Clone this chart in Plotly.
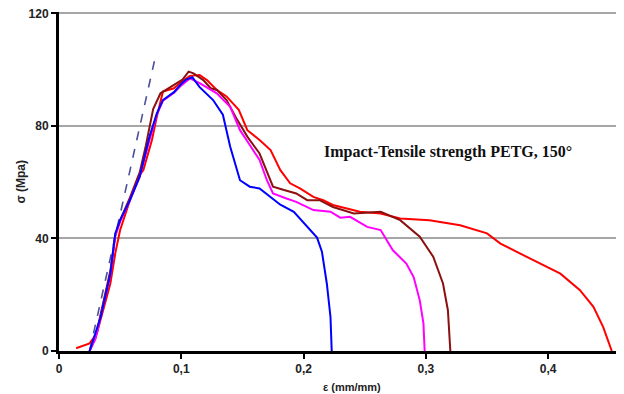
import plotly.graph_objects as go

# strain (mm/mm) and stress (MPa) for each specimen
red_x = [0.014, 0.017, 0.025, 0.031, 0.036, 0.042, 0.046, 0.050, 0.058, 0.065, 0.069, 0.076, 0.080,
         0.085, 0.094, 0.100, 0.107, 0.115, 0.121, 0.129, 0.137, 0.147, 0.154, 0.164, 0.173, 0.181,
         0.189, 0.197, 0.208, 0.216, 0.224, 0.230, 0.246, 0.263, 0.279, 0.303, 0.328, 0.350, 0.361,
         0.385, 0.410, 0.426, 0.437, 0.445, 0.452]
red_y = [1.0, 1.4, 2.7, 6.3, 14.5, 24.0, 34.7, 43.0, 53.6, 62.0, 64.3, 75.0, 83.3,
         92.2, 93.4, 95.7, 97.8, 98.1, 96.3, 92.8, 90.5, 85.7, 78.5, 75.0, 71.4, 64.3,
         59.6, 57.8, 54.8, 53.6, 51.9, 51.2, 49.5, 48.9, 47.1, 46.5, 44.7, 41.8, 38.2,
         32.9, 27.5, 21.6, 15.7, 8.5, 0.0]

maroon_x = [0.025, 0.030, 0.034, 0.042, 0.046, 0.050, 0.058, 0.066, 0.071, 0.077, 0.083, 0.088,
            0.096, 0.101, 0.106, 0.110, 0.118, 0.124, 0.129, 0.137, 0.145, 0.154, 0.164, 0.175,
            0.184, 0.194, 0.203, 0.213, 0.224, 0.241, 0.263, 0.279, 0.295, 0.306, 0.314, 0.318, 0.320]
maroon_y = [0.0, 5.0, 13.0, 28.5, 41.0, 46.5, 54.5, 63.5, 73.0, 86.0, 91.6, 93.0,
            95.2, 96.5, 99.3, 98.7, 96.3, 93.4, 92.8, 89.2, 82.7, 76.2, 70.2, 58.4,
            57.2, 56.0, 53.6, 53.6, 51.2, 48.9, 49.5, 46.5, 40.6, 33.5, 24.0, 14.5, 0.0]

magenta_x = [0.025, 0.030, 0.034, 0.042, 0.046, 0.050, 0.058, 0.066, 0.074, 0.080, 0.085, 0.094,
             0.099, 0.107, 0.115, 0.129, 0.140, 0.148, 0.156, 0.164, 0.170, 0.175, 0.186, 0.194,
             0.208, 0.222, 0.230, 0.238, 0.252, 0.263, 0.273, 0.284, 0.290, 0.295, 0.298, 0.299]
magenta_y = [0.0, 4.5, 12.0, 27.0, 41.0, 46.0, 53.6, 62.0, 75.0, 84.0, 89.0, 91.8,
             94.0, 96.9, 95.2, 91.6, 86.8, 78.5, 73.2, 67.9, 60.7, 56.0, 54.2, 53.0,
             50.1, 49.5, 47.4, 47.7, 44.1, 43.0, 35.8, 31.1, 26.3, 18.0, 9.8, 0.0]

blue_x = [0.025, 0.034, 0.042, 0.046, 0.050, 0.058, 0.066, 0.074, 0.080, 0.085, 0.094, 0.100,
          0.104, 0.109, 0.115, 0.126, 0.134, 0.140, 0.148, 0.156, 0.164, 0.173, 0.181, 0.192,
          0.203, 0.211, 0.215, 0.219, 0.222, 0.223]
blue_y = [0.0, 12.0, 27.5, 41.8, 46.5, 53.6, 62.0, 76.2, 84.5, 89.2, 92.0, 95.0,
          96.5, 97.3, 93.8, 89.2, 84.0, 72.6, 60.7, 58.4, 57.8, 54.8, 52.0, 49.5,
          44.2, 40.3, 35.3, 24.0, 12.1, 0.0]

modulus_x = [0.025, 0.078]
modulus_y = [0.0, 103.0]

x_ticks = [0, 0.1, 0.2, 0.3, 0.4]
x_ticktext = ["<b>0</b>", "<b>0,1</b>", "<b>0,2</b>", "<b>0,3</b>", "<b>0,4</b>"]
y_ticks = [0, 40, 80, 120]
y_ticktext = ["<b>0</b>", "<b>40</b>", "<b>80</b>", "<b>120</b>"]

fig = go.Figure()
fig.add_trace(go.Scatter(x=modulus_x, y=modulus_y, mode="lines",
                         line=dict(color="#4b4f9c", width=1.6, dash="dash")))
fig.add_trace(go.Scatter(x=red_x, y=red_y, mode="lines", line=dict(color="#ff0000", width=2)))
fig.add_trace(go.Scatter(x=maroon_x, y=maroon_y, mode="lines", line=dict(color="#8b1010", width=2)))
fig.add_trace(go.Scatter(x=magenta_x, y=magenta_y, mode="lines", line=dict(color="#ff00ff", width=2)))
fig.add_trace(go.Scatter(x=blue_x, y=blue_y, mode="lines", line=dict(color="#0000ff", width=2)))

tickfont = dict(family="Liberation Sans, Arial", size=12, color="#222222")

# page body has an 8px margin, so the figure is sized to fit the 624x394 window
fig.update_layout(
    width=616, height=386,
    margin=dict(l=51, r=0, t=4, b=43),
    paper_bgcolor="white", plot_bgcolor="white",
    showlegend=False,
    xaxis=dict(range=[0, 0.462], tickvals=x_ticks, ticktext=x_ticktext,
               showgrid=False, zeroline=False, showline=True, linecolor="black", linewidth=3,
               ticks="outside", ticklen=5, tickwidth=2, tickcolor="black",
               tickfont=tickfont, ticklabeloverflow="allow"),
    yaxis=dict(range=[0, 120.5], tickvals=y_ticks, ticktext=y_ticktext,
               showgrid=True, gridcolor="#a6a6a6", gridwidth=1.5, zeroline=False,
               showline=True, linecolor="black", linewidth=3,
               ticks="outside", ticklen=5, tickwidth=2, tickcolor="black",
               tickfont=tickfont, ticklabeloverflow="allow"),
    annotations=[
        dict(text="<b>Impact-Tensile strength PETG, 150°</b>", xref="paper", yref="paper",
             x=0.688, y=0.588, xanchor="center", yanchor="middle", showarrow=False,
             font=dict(family="Liberation Serif, Times New Roman", size=16, color="#111111")),
        dict(text="<b>ε (mm/mm)</b>", xref="paper", yref="paper",
             x=0.519, y=-0.107, xanchor="center", yanchor="middle", showarrow=False,
             font=dict(family="Liberation Sans, Arial", size=11, color="#222222")),
        dict(text="<b>σ (Mpa)</b>", xref="paper", yref="paper",
             x=-0.069, y=0.5, xanchor="center", yanchor="middle", showarrow=False, textangle=-90,
             font=dict(family="Liberation Sans, Arial", size=12, color="#222222")),
    ],
)
fig.write_html("out.html")
